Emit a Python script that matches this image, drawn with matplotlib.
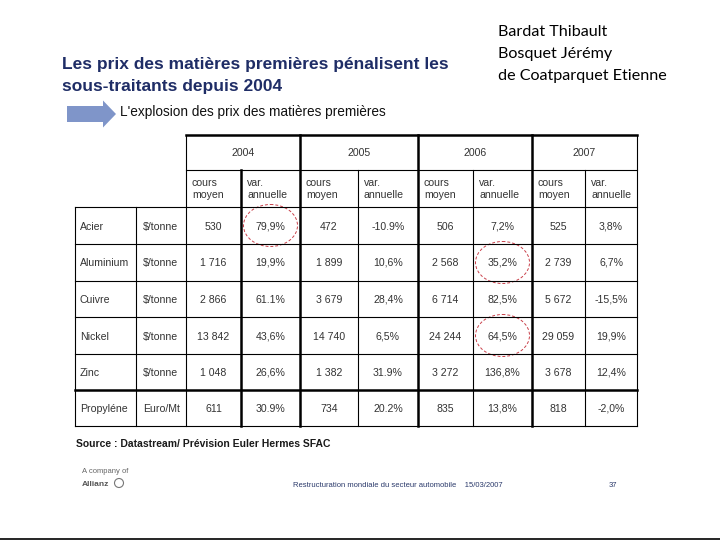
import math
import matplotlib
matplotlib.use("Agg")
import matplotlib.pyplot as plt
from matplotlib.font_manager import FontProperties
from matplotlib.patches import Ellipse, FancyArrow

# --- data ---
materials = ["Acier", "Aluminium", "Cuivre", "Nickel", "Zinc", "Propyléne"]
units = ["$/tonne", "$/tonne", "$/tonne", "$/tonne", "$/tonne", "Euro/Mt"]
years = ["2004", "2005", "2006", "2007"]
sub_headers = ["cours\nmoyen", "var.\nannuelle"]

cours_2004 = ["530", "1 716", "2 866", "13 842", "1 048", "611"]
var_2004 = ["79,9%", "19,9%", "61.1%", "43,6%", "26,6%", "30.9%"]
cours_2005 = ["472", "1 899", "3 679", "14 740", "1 382", "734"]
var_2005 = ["-10.9%", "10,6%", "28,4%", "6,5%", "31.9%", "20.2%"]
cours_2006 = ["506", "2 568", "6 714", "24 244", "3 272", "835"]
var_2006 = ["7,2%", "35,2%", "82,5%", "64,5%", "136,8%", "13,8%"]
cours_2007 = ["525", "2 739", "5 672", "29 059", "3 678", "818"]
var_2007 = ["3,8%", "6,7%", "-15,5%", "19,9%", "12,4%", "-2,0%"]

# circled cells: (row index, year index) of the "var. annuelle" column
circled = [(0, 0), (1, 2), (3, 2)]

title_lines = ["Les prix des matières premières pénalisent les",
               "sous-traitants depuis 2004"]
subtitle = "L'explosion des prix des matières premières"
authors = ["Bardat Thibault", "Bosquet Jérémy", "de Coatparquet Etienne"]
source = "Source : Datastream/ Prévision Euler Hermes SFAC"
footer = "Restructuration mondiale du secteur automobile    15/03/2007"
page = "37"

# --- layout (pixels) ---
col_x = [75, 136, 186, 241, 300, 358, 418, 473, 532, 585, 637]
row_y = [135, 170, 207, 244, 281, 317, 354, 390, 426]
thick_cols = [241, 300, 418, 532]

values = [cours_2004, var_2004, cours_2005, var_2005,
          cours_2006, var_2006, cours_2007, var_2007]

fig = plt.figure(figsize=(7.2, 5.4), dpi=100)
ax = fig.add_axes([0, 0, 1, 1])
ax.set_xlim(0, 720)
ax.set_ylim(540, 0)
ax.axis("off")
rend = fig.canvas.get_renderer()

txt = "#333333"
tfont = "Liberation Sans"
fs = 7.6
base = 4  # px from visual centre down to baseline for table text
cell_prop = FontProperties(family=tfont, size=fs)


def cell_text(x, y, s, ha="left"):
    # agg places the glyph bitmap with some rounding that depends on the
    # string's own extent; undo it so all cells of a row share a baseline
    _, h, d = rend.get_text_width_height_descent(s, cell_prop, ismath=False)
    shift = math.floor(h) - math.floor(h - d) - d
    ax.text(x, y + shift, s, fontproperties=cell_prop, color=txt,
            ha=ha, va="baseline")


# title block
for i, line in enumerate(title_lines):
    ax.text(62, 69 + 22 * i, line, fontsize=12.5, fontweight="bold", color="#1f2d66",
            family=tfont, va="baseline")
ax.add_patch(FancyArrow(67, 114, 36, 0, width=16, head_width=27, head_length=13,
                        length_includes_head=False, color="#7f95c9", lw=0))
ax.text(120, 116, subtitle, fontsize=9.8, color="#111111", family=tfont,
        va="baseline")

for i, name in enumerate(authors):
    ax.text(498, 36 + 22 * i, name, fontsize=11.6, color="black",
            family="Lato", va="baseline")

# table grid
thin, thick = 0.8, 1.8
top, h1, h2, bottom = row_y[0], row_y[1], row_y[2], row_y[-1]
ax.plot([col_x[2], col_x[-1]], [top, top], color="black", lw=thick)
ax.plot([col_x[2], col_x[-1]], [h1, h1], color="black", lw=thin)
ax.plot([col_x[0], col_x[-1]], [h2, h2], color="black", lw=thin)
for y in row_y[3:-2]:
    ax.plot([col_x[0], col_x[-1]], [y, y], color="black", lw=thin)
ax.plot([col_x[0], col_x[-1]], [row_y[-2], row_y[-2]], color="black", lw=thick)
ax.plot([col_x[0], col_x[-1]], [bottom, bottom], color="black", lw=thin)

ax.plot([col_x[0], col_x[0]], [h2, bottom], color="black", lw=thin)
ax.plot([col_x[1], col_x[1]], [h2, bottom], color="black", lw=thin)
ax.plot([col_x[2], col_x[2]], [top, bottom], color="black", lw=thin)
ax.plot([col_x[-1], col_x[-1]], [top, bottom], color="black", lw=thin)
for k in range(3, len(col_x) - 1):
    x = col_x[k]
    y0 = top if (k - 2) % 2 == 0 else h1
    ax.plot([x, x], [y0, bottom], color="black",
            lw=thick if x in thick_cols else thin)

# headers
for j, yr in enumerate(years):
    xc = (col_x[2 + 2 * j] + col_x[4 + 2 * j]) / 2
    cell_text(xc, round((top + h1) / 2 + base), yr, ha="center")
    for s, sh in enumerate(sub_headers):
        first, second = sh.split("\n")
        xl = col_x[2 + 2 * j + s] + 6
        ym = round((h1 + h2) / 2)
        cell_text(xl, ym - 6 + base, first)
        cell_text(xl, ym + 6 + base, second)

# body
for r, (mat, unit) in enumerate(zip(materials, units)):
    yb = round((row_y[2 + r] + row_y[3 + r]) / 2 + base)
    cell_text(col_x[0] + 5, yb, mat)
    cell_text(col_x[1] + 7, yb, unit)
    for c, col in enumerate(values):
        xc = (col_x[2 + c] + col_x[3 + c]) / 2
        cell_text(xc, yb, col[r], ha="center")

for r, j in circled:
    xc = (col_x[3 + 2 * j] + col_x[4 + 2 * j]) / 2
    yc = (row_y[2 + r] + row_y[3 + r]) / 2
    ax.add_patch(Ellipse((xc, yc), 54, 42, fill=False, edgecolor="#c9404a",
                         lw=0.7, ls=(0, (3, 2))))

# source and footer
ax.text(76, 447, source, fontsize=7.5, fontweight="bold", color="#1a1a1a",
        family=tfont, va="baseline")
ax.text(82, 473, "A company of", fontsize=5.5, color="#666666", family=tfont,
        va="baseline")
ax.text(82, 486, "Allianz", fontsize=6, fontweight="bold", color="#555555",
        family=tfont, va="baseline")
ax.add_patch(Ellipse((119, 483), 9, 9, fill=False, edgecolor="#777777", lw=0.8))
ax.text(293, 487, footer, fontsize=5.5, color="#2b3a6b", family=tfont,
        va="baseline")
ax.text(609, 487, page, fontsize=5.5, color="#2b3a6b", family=tfont,
        va="baseline")
ax.plot([0, 720], [539, 539], color="black", lw=1.2)

fig.savefig("out.png", dpi=100)
